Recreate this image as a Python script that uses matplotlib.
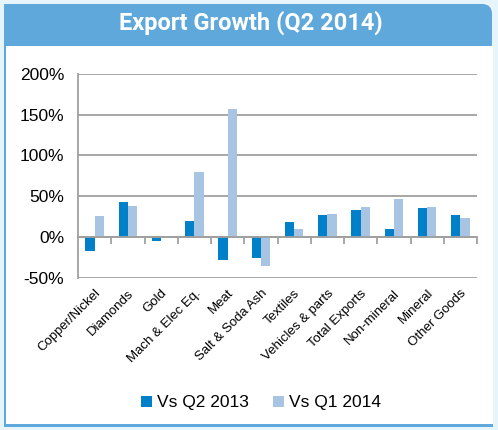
import numpy as np
import matplotlib
matplotlib.use("Agg")
import matplotlib.pyplot as plt
from matplotlib.patches import FancyBboxPatch, Rectangle

# data
categories = ["Copper/Nickel", "Diamonds", "Gold", "Mach & Elec Eq.", "Meat",
              "Salt & Soda Ash", "Textiles", "Vehicles & parts", "Total Exports",
              "Non-mineral", "Mineral", "Other Goods"]
vs_q2_2013 = [-17, 43, -5, 20, -29, -26, 18, 27, 33, 10, 35, 27]
vs_q1_2014 = [26, 38, 0.5, 80, 157, -36, 10, 28, 37, 47, 36, 23]
series_names = ["Vs Q2 2013", "Vs Q1 2014"]
y_ticks = [-50, 0, 50, 100, 150, 200]

W, H = 498, 430
plt.rcParams['font.family'] = ['Liberation Sans', 'DejaVu Sans']
fig = plt.figure(figsize=(W / 100, H / 100), dpi=100)
fig.patch.set_facecolor('#e6f5fc')

# frame drawn in pixel coords
bg = fig.add_axes([0, 0, 1, 1])
bg.set_xlim(0, W)
bg.set_ylim(H, 0)
bg.axis('off')
blue = '#5fa8dc'
bg.add_patch(FancyBboxPatch((4, 4), 488, 440, boxstyle='round,pad=0,rounding_size=10',
                            fc=blue, ec='none'))
bg.add_patch(Rectangle((4, 4), 20, 20, fc=blue, ec='none'))
bg.add_patch(Rectangle((6, 46), 487, 378, fc='white', ec='none'))
bg.add_patch(Rectangle((0, 427), W, 3, fc='#e6f5fc', ec='none'))
bg.add_patch(Rectangle((4, 424), 489, 3, fc=blue, ec='none'))
bg.text(251, 23, "Export Growth (Q2 2014)", color='white', fontsize=17,
        fontweight='bold', ha='center', va='center',
        family=['Roboto', 'DejaVu Sans'])

# chart
ax = fig.add_axes([78 / W, 1 - 277.5 / H, (477 - 78) / W, (277.5 - 74) / H])
ax.set_facecolor('none')
x = np.arange(len(categories))
w = 0.28
ax.bar(x - w / 2, vs_q2_2013, w, color='#0080c8', label=series_names[0], zorder=3)
ax.bar(x + w / 2, vs_q1_2014, w, color='#a8c4e3', label=series_names[1], zorder=3)

ax.set_xlim(-0.5, len(categories) - 0.5)
ax.set_ylim(-50, 200)
ax.set_yticks(y_ticks)
ax.set_yticklabels([f"{v}%" for v in y_ticks], fontsize=12.5)
ax.tick_params(axis='y', length=0, pad=10)
ax.yaxis.grid(True, color='#a0a0a0', lw=1.3, zorder=0)
for s in ['top', 'right']:
    ax.spines[s].set_visible(False)
ax.spines['left'].set_color('#a0a0a0')
ax.spines['left'].set_linewidth(1.3)

# zero axis with boundary ticks
ax.spines['bottom'].set_position(('data', 0))
ax.spines['bottom'].set_color('#a0a0a0')
ax.spines['bottom'].set_linewidth(1.3)
ax.spines['bottom'].set_zorder(4)
ax.set_xticks(np.arange(len(categories)) + 0.5)
ax.set_xticklabels([])
ax.tick_params(axis='x', length=5, width=1.3, color='#a0a0a0', direction='out')

sec = ax.secondary_xaxis('bottom')
sec.set_xticks(x)
sec.set_xticklabels(categories, rotation=45, ha='right', rotation_mode='anchor',
                    fontsize=9.5)
sec.tick_params(length=0, pad=7)
sec.spines['bottom'].set_visible(False)

ax.legend(loc='center', bbox_to_anchor=(261 / W, 1 - 403 / H),
          bbox_transform=fig.transFigure, ncol=2, frameon=False, fontsize=12.5,
          handlelength=0.6, handleheight=0.6, handletextpad=0.3, columnspacing=1.4)

fig.savefig("out.png", dpi=100, facecolor=fig.get_facecolor())
